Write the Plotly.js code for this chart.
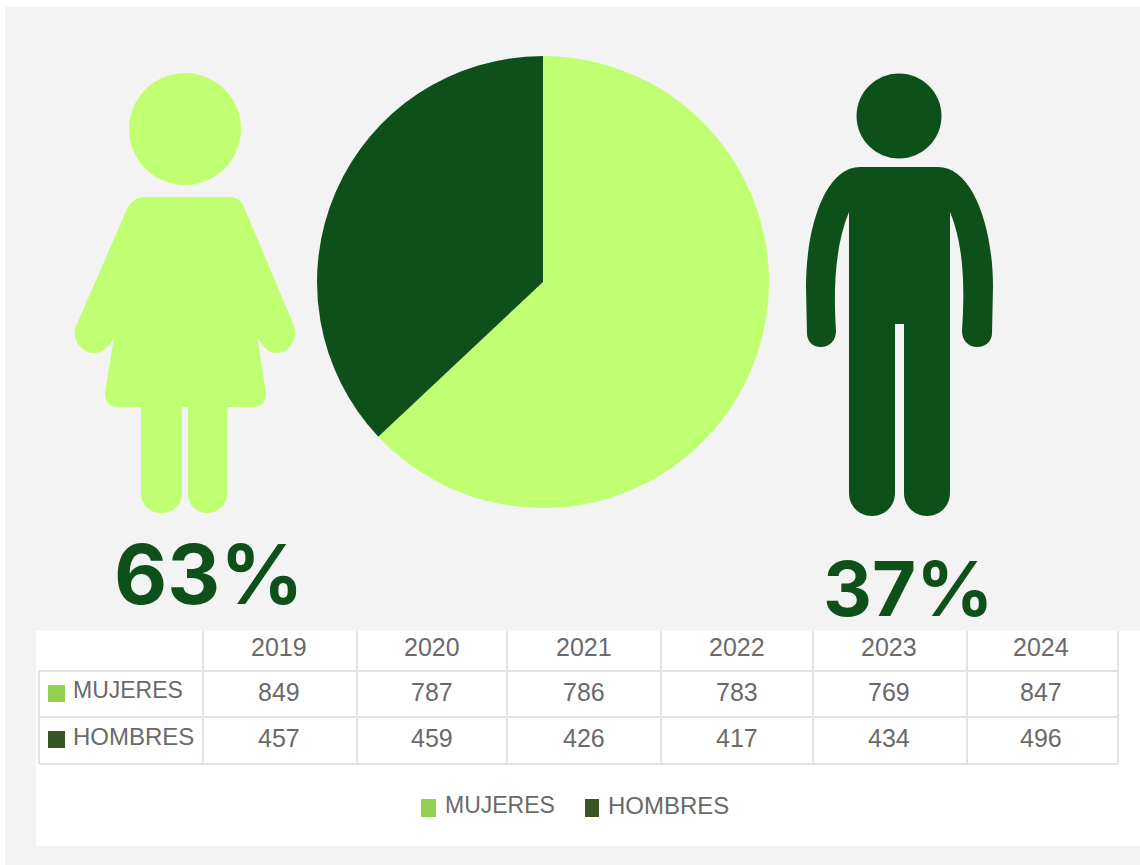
<!DOCTYPE html>
<html>
<head>
<meta charset="utf-8">
<script src="https://cdn.plot.ly/plotly-3.0.1.min.js"></script>
<style>html,body{margin:0;padding:0;background:#fff;overflow:hidden}</style>
</head>
<body>
<div id="chart" style="width:1140px;height:865px"></div>
<script>
const years = ['2019','2020','2021','2022','2023','2024'];
const mujeres = [849,787,786,783,769,847];
const hombres = [457,459,426,417,434,496];
const seriesNames = ['MUJERES','HOMBRES'];
const shareValues = [63,37];

const W = 1140, H = 865;
const LIGHT = '#c1ff72', DARK = '#0e5019', KEY_L = '#92d050', KEY_D = '#375623';
const TXT = '#6a6a6a', GRID = '#e2e2e2', BG = '#f3f3f3';
const fx = x => x / W, fy = y => 1 - y / H;

function P(d) {
  let i = 0;
  return d.replace(/-?\d+(\.\d+)?/g, m => {
    const v = parseFloat(m), o = (i++ % 2 === 0) ? fx(v) : fy(v);
    return o.toFixed(5);
  });
}
function circlePath(cx, cy, r) {
  const k = 0.5523 * r;
  return `M${cx - r} ${cy} C${cx - r} ${cy - k} ${cx - k} ${cy - r} ${cx} ${cy - r} ` +
    `C${cx + k} ${cy - r} ${cx + r} ${cy - k} ${cx + r} ${cy} ` +
    `C${cx + r} ${cy + k} ${cx + k} ${cy + r} ${cx} ${cy + r} ` +
    `C${cx - k} ${cy + r} ${cx - r} ${cy + k} ${cx - r} ${cy} Z`;
}
const womanBody = 'M145 197 L230 197 C237 197 243 202 245 209 L294 326 C298 338 290 353 277 353 ' +
  'C268 353 262 346 257 336 L266 393 C267 401 261 407 253 407 L227 407 L227 493 C227 505 218 513 207 513 ' +
  'C196 513 188 505 188 493 L188 407 L182 407 L182 493 C182 505 173 513 161 513 C150 513 141 505 141 493 ' +
  'L141 407 L118 407 C110 407 104 401 105 393 L114 337 C110 346 103 353 94 353 C81 353 71 338 76 326 ' +
  'L127 209 C130 202 137 197 145 197 Z';
const manBody = 'M860 167 L938 167 C972 167 993 225 993 287 L992 333 C992 341 986 347 977 347 ' +
  'C969 347 962 341 962 331 C964 300 966 250 950 212 L950 493 C950 506 940 516 927 516 ' +
  'C914 516 904 506 904 493 L904 324 L895 324 L895 493 C895 506 885 516 872 516 C859 516 849 506 849 493 ' +
  'L849 212 C833 250 834 300 836 331 C836 341 829 347 821 347 C812 347 807 341 807 333 L806 287 ' +
  'C806 225 826 167 860 167 Z';

function rect(x0, y0, x1, y1, color) {
  return {type:'rect', xref:'paper', yref:'paper', x0:fx(x0), x1:fx(x1), y0:fy(y0), y1:fy(y1),
    fillcolor:color, line:{width:0}, layer:'below'};
}
function seg(x0, y0, x1, y1) {
  return {type:'line', xref:'paper', yref:'paper', x0:fx(x0), x1:fx(x1), y0:fy(y0), y1:fy(y1),
    line:{color:GRID, width:2}, layer:'below'};
}
function glyph(d, color) {
  return {type:'path', xref:'paper', yref:'paper', path:P(d), fillcolor:color, line:{width:0}, layer:'below'};
}
function label(text, x, y, size, color, anchor, family, bold) {
  return {text: bold ? '<b>' + text + '</b>' : text, xref:'paper', yref:'paper', x:fx(x), y:fy(y),
    xanchor:anchor || 'center', yanchor:'middle', showarrow:false, borderpad:0,
    font:{size:size, color:color, family:family || '"Liberation Sans", Arial, sans-serif'}};
}

const colX = [279,432,584,737,889,1041];
const rowY = [692,738];
const gridX = [203,357,507,661,813,967];
const BIG = 'Inter, "Noto Sans", sans-serif';

const shapes = [
  rect(5,7,1140,865,BG),
  rect(36,631,1140,846,'#ffffff'),
  seg(39,671,1118,671), seg(39,717,1118,717), seg(39,764,1118,764),
  seg(39,671,39,764), seg(1118,631,1118,764),
  ...gridX.map(x => seg(x,631,x,764)),
  rect(48,685,65,702,KEY_L), rect(48,731,65,748,KEY_D),
  rect(421,799,436,817,KEY_L), rect(585,799,599,817,KEY_D),
  glyph(circlePath(185,129,56), LIGHT), glyph(womanBody, LIGHT),
  glyph(circlePath(899,116,42.5), DARK), glyph(manBody, DARK)
];

const annotations = [
  label(shareValues[0] + '%', 209, 574, 82, DARK, 'center', BIG, true),
  label(shareValues[1] + '%', 908, 588, 76, DARK, 'center', BIG, true),
  ...years.map((t,i) => label(t, colX[i], 647, 25, TXT)),
  ...mujeres.map((v,i) => label(String(v), colX[i], rowY[0], 25, TXT)),
  ...hombres.map((v,i) => label(String(v), colX[i], rowY[1], 25, TXT)),
  label(seriesNames[0], 72, 690, 23, TXT, 'left'),
  label(seriesNames[1], 72, 736, 24, TXT, 'left'),
  label(seriesNames[0], 444, 805, 23, TXT, 'left'),
  label(seriesNames[1], 607, 805, 24, TXT, 'left')
];

Plotly.newPlot('chart', [{
  type:'pie', values:shareValues, labels:seriesNames, sort:false, direction:'clockwise', rotation:0,
  marker:{colors:[LIGHT,DARK], line:{width:0}}, textinfo:'none', hoverinfo:'none',
  domain:{x:[fx(317),fx(769)], y:[fy(508),fy(56)]}, showlegend:false
}], {
  width:W, height:H, margin:{l:0,r:0,t:0,b:0,pad:0}, paper_bgcolor:'#ffffff', plot_bgcolor:'rgba(0,0,0,0)',
  showlegend:false, shapes, annotations
}, {displayModeBar:false, staticPlot:true});
</script>
</body>
</html>
